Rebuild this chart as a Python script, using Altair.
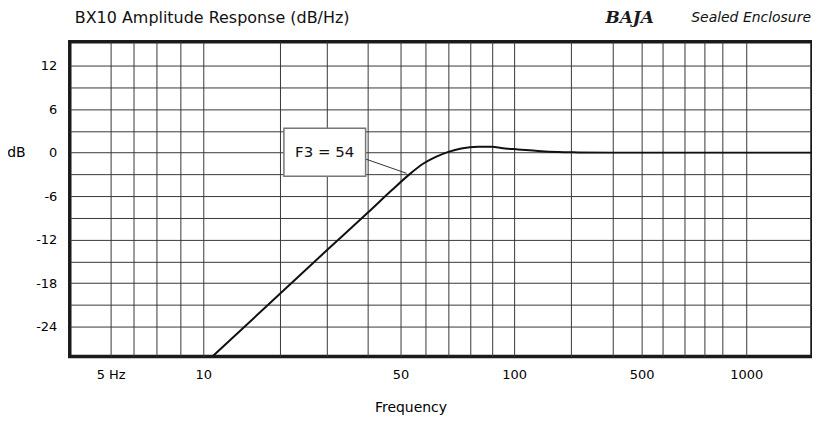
import altair as alt
import pandas as pd

FONT = "DejaVu Sans"

# ---- data ----
TITLE = "BX10 Amplitude Response (dB/Hz)"
SUBTITLE = "Sealed Enclosure"
LOGO = "BAJA"

# amplitude response curve (Hz, dB)
freq = [11.3, 20, 30, 40, 47.3, 53.2, 59.2, 64.3, 70, 75.9, 83.6, 89.5, 95.9,
        107, 142, 177, 217, 300, 2000]
db = [-28.0, -19.5, -13.5, -8.3, -5.2, -3.1, -1.5, -0.62, 0.11, 0.58, 0.80,
      0.80, 0.58, 0.44, 0.21, 0.07, 0.03, 0.0, 0.0]

# vertical grid lines (Hz) and labelled frequencies
grid_freq = [5, 6, 7, 8, 10, 20, 30, 40, 50, 60, 70, 80, 90, 100, 200, 300,
             500, 600, 700, 800, 900, 1000]
label_freq = [5, 10, 50, 100, 500, 1000]
# horizontal grid lines (dB)
db_grid = [-24, -21, -18, -15, -12, -9, -6, -3, 0, 3, 6, 9, 12]

# F3 annotation
f3_label = ["F3 = 54"]
f3_text_x = [29.6]
f3_text_y = [0.1]
box_x0 = [20.9]
box_x1 = [39.5]
box_y0 = [-3.25]
box_y1 = [3.35]
lead_x0 = [39.6]
lead_y0 = [-0.9]
lead_x1 = [52.4]
lead_y1 = [-2.85]

# ---- scale layout (the reference's frequency axis is hand drawn, not a true log) ----
scale_breaks = [4] + grid_freq + [2000]
scale_px = [0, 41, 64, 87, 110.7, 134, 210.7, 257.7, 299, 332, 357, 380, 402,
            424, 446, 503, 545, 574, 595, 617, 637, 655, 679, 745]

xscale = alt.Scale(type="linear", domain=scale_breaks, range=scale_px,
                   nice=False, zero=False)
yscale = alt.Scale(domain=[-28.1, 15.3], nice=False, zero=False)

label_list = ",".join(str(v) for v in label_freq)
x_axis = alt.Axis(
    values=grid_freq,
    labelExpr=f"indexof([{label_list}], datum.value) >= 0 ? (datum.value == 5 ? '5 Hz' : '' + datum.value) : ''",
    title="Frequency", grid=True, ticks=False, domain=False,
    labelPadding=12, labelFontSize=13, labelFont=FONT, labelColor="#000",
    labelFlush=False, labelOverlap=False,
    titleFont=FONT, titleFontSize=14, titleFontWeight="normal", titleColor="#000",
    titleX=342, titleY=51, titleBaseline="middle", titleAlign="center",
    gridColor="#383838", gridWidth=1, gridOpacity=1,
)
y_axis = alt.Axis(
    values=db_grid,
    labelExpr="datum.value % 6 == 0 ? '' + datum.value : ''",
    title="dB", titleAngle=0, titleX=-54, titleY=111.5,
    titleAlign="center", titleBaseline="middle",
    titleFont=FONT, titleFontSize=14, titleFontWeight="normal", titleColor="#000",
    grid=True, ticks=False, domain=False,
    labelPadding=13, labelFontSize=13, labelFont=FONT, labelColor="#000",
    labelFlush=False, labelOverlap=False,
    gridColor="#383838", gridWidth=1, gridOpacity=1,
)

curve_df = pd.DataFrame({"freq": freq, "db": db})
box_df = pd.DataFrame({"x0": box_x0, "x1": box_x1, "y0": box_y0, "y1": box_y1})
lead_df = pd.DataFrame({"x0": lead_x0, "x1": lead_x1, "y0": lead_y0, "y1": lead_y1})
text_df = pd.DataFrame({"x": f3_text_x, "y": f3_text_y, "t": f3_label})


def X(field):
    return alt.X(field, scale=xscale, axis=x_axis, title="Frequency")


def Y(field):
    return alt.Y(field, scale=yscale, axis=y_axis, title="dB")


curve = alt.Chart(curve_df).mark_line(
    color="#111", strokeWidth=2, interpolate="monotone"
).encode(x=X("freq:Q"), y=Y("db:Q"))

leader = alt.Chart(lead_df).mark_rule(color="#333", strokeWidth=1).encode(
    x=X("x0:Q"), x2="x1", y=Y("y0:Q"), y2="y1",
)

box = alt.Chart(box_df).mark_rect(fill="white", stroke="#777", strokeWidth=1.5).encode(
    x=X("x0:Q"), x2="x1", y=Y("y0:Q"), y2="y1",
)

box_text = alt.Chart(text_df).mark_text(
    font=FONT, fontSize=15, color="#111", align="center", baseline="middle"
).encode(x=X("x:Q"), y=Y("y:Q"), text="t:N")

title_txt = alt.Chart(pd.DataFrame({"t": [TITLE]})).mark_text(
    font=FONT, fontSize=16, color="#111", align="left", baseline="middle"
).encode(x=alt.value(5), y=alt.value(-24), text="t:N")

sub_txt = alt.Chart(pd.DataFrame({"t": [SUBTITLE]})).mark_text(
    font=FONT, fontSize=14, fontStyle="italic", color="#111",
    align="right", baseline="middle"
).encode(x=alt.value(744), y=alt.value(-24), text="t:N")

logo_txt = alt.Chart(pd.DataFrame({"t": [LOGO]})).mark_text(
    font="DejaVu Serif", fontSize=17, fontWeight="bold", fontStyle="italic",
    color="#1a1a1a", align="center", baseline="middle"
).encode(x=alt.value(562), y=alt.value(-24), text="t:N")

chart = alt.layer(
    curve, leader, box, box_text, title_txt, sub_txt, logo_txt
).properties(
    width=745, height=316,
    autosize=alt.AutoSizeParams(type="none"),
    padding={"left": 62, "top": 33, "right": 0, "bottom": 60},
    background="white",
).configure_view(stroke="#1a1a1a", strokeWidth=3.5)

chart.save("out.html", embed_options={"renderer": "svg", "actions": False})
